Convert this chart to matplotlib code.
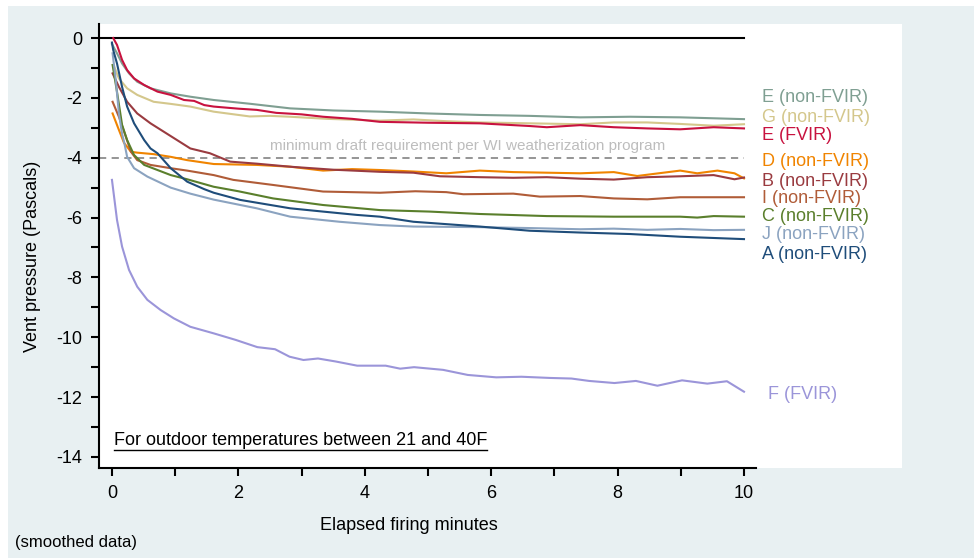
import matplotlib
matplotlib.use("Agg")
import matplotlib.pyplot as plt
from matplotlib.patches import Rectangle
from matplotlib.lines import Line2D

plt.rcParams["font.family"] = ["Liberation Sans", "DejaVu Sans"]

# ---- data ----
x_e_non = [0.0, 0.08, 0.16, 0.27, 0.4, 0.61, 0.93, 1.24, 1.61, 2.2, 2.82, 3.5, 4.24, 5.0, 5.82, 6.6,
           7.41, 8.2, 8.99, 9.5, 10.0]
y_e_non = [-0.2, -0.51, -0.85, -1.18, -1.46, -1.68, -1.85, -1.96, -2.07, -2.2, -2.35, -2.42, -2.46, -2.52,
           -2.57, -2.6, -2.65, -2.63, -2.65, -2.68, -2.71]

x_g = [0.03, 0.11, 0.24, 0.4, 0.66, 0.93, 1.24, 1.61, 2.18, 2.5, 2.82, 3.4, 4.24, 4.77, 5.3, 5.82, 6.61,
       7.41, 7.94, 8.47, 8.99, 9.52, 10.0]
y_g = [-0.93, -1.35, -1.68, -1.9, -2.13, -2.2, -2.29, -2.46, -2.62, -2.6, -2.63, -2.7, -2.76, -2.72, -2.78,
       -2.82, -2.85, -2.88, -2.82, -2.82, -2.87, -2.93, -2.88]

x_e_fvir = [0.02, 0.08, 0.16, 0.24, 0.35, 0.51, 0.72, 0.93, 1.14, 1.3, 1.46, 1.61, 2.0, 2.29, 2.6, 3.0,
            3.34, 3.8, 4.24, 5.0, 5.82, 6.61, 6.88, 7.41, 7.94, 8.47, 8.99, 9.52, 10.0]
y_e_fvir = [0.0, -0.23, -0.73, -1.07, -1.35, -1.57, -1.79, -1.9, -2.07, -2.1, -2.24, -2.29, -2.36, -2.4,
            -2.5, -2.55, -2.63, -2.7, -2.8, -2.83, -2.85, -2.94, -2.98, -2.91, -2.98, -3.02, -3.05, -2.98, -3.02]

x_d = [0.01, 0.11, 0.19, 0.3, 0.4, 0.66, 0.93, 1.19, 1.61, 2.29, 2.82, 3.34, 3.8, 4.24, 4.77, 5.29, 5.82,
       6.35, 6.88, 7.41, 7.94, 8.31, 8.99, 9.26, 9.58, 9.85, 10.0]
y_d = [-2.52, -3.07, -3.5, -3.8, -3.83, -3.88, -3.97, -4.08, -4.21, -4.24, -4.3, -4.43, -4.38, -4.41, -4.46,
       -4.52, -4.43, -4.48, -4.5, -4.52, -4.48, -4.61, -4.43, -4.52, -4.43, -4.52, -4.69]

x_b = [0.01, 0.11, 0.24, 0.4, 0.61, 0.82, 1.03, 1.24, 1.55, 1.87, 2.3, 2.82, 3.5, 4.24, 4.77, 5.19, 5.82,
       6.35, 6.88, 7.41, 7.94, 8.47, 8.99, 9.52, 9.85, 10.0]
y_b = [-1.18, -1.63, -2.13, -2.52, -2.85, -3.13, -3.41, -3.69, -3.85, -4.13, -4.2, -4.3, -4.4, -4.47, -4.5,
       -4.62, -4.65, -4.67, -4.65, -4.7, -4.73, -4.65, -4.62, -4.58, -4.72, -4.66]

x_i = [0.01, 0.11, 0.22, 0.3, 0.4, 0.61, 0.93, 1.19, 1.61, 1.92, 2.55, 3.34, 4.24, 4.8, 5.29, 5.56, 6.35,
       6.77, 7.41, 7.94, 8.47, 8.99, 10.0]
y_i = [-2.13, -2.63, -3.3, -3.8, -4.08, -4.24, -4.35, -4.43, -4.58, -4.74, -4.91, -5.13, -5.17, -5.12,
       -5.15, -5.22, -5.2, -5.3, -5.28, -5.36, -5.39, -5.32, -5.32]

x_c = [0.01, 0.08, 0.16, 0.24, 0.35, 0.51, 0.72, 0.93, 1.19, 1.61, 2.0, 2.55, 3.34, 4.24, 5.03, 5.82,
       6.88, 7.94, 8.99, 9.26, 9.52, 10.0]
y_c = [-0.9, -1.8, -2.9, -3.41, -3.91, -4.24, -4.41, -4.58, -4.72, -4.97, -5.12, -5.36, -5.58, -5.75,
       -5.8, -5.88, -5.95, -5.97, -5.97, -6.0, -5.95, -5.97]

x_j = [0.01, 0.06, 0.11, 0.16, 0.2, 0.24, 0.35, 0.56, 0.93, 1.24, 1.61, 2.29, 2.82, 3.6, 4.24, 4.77,
       5.82, 6.6, 7.41, 7.94, 8.47, 8.99, 9.52, 10.0]
y_j = [-0.51, -1.4, -2.52, -3.2, -3.55, -3.97, -4.35, -4.63, -5.0, -5.2, -5.4, -5.69, -5.97, -6.14,
       -6.25, -6.3, -6.32, -6.35, -6.39, -6.37, -6.41, -6.38, -6.42, -6.41]

x_a = [0.0, 0.02, 0.08, 0.16, 0.24, 0.35, 0.51, 0.61, 0.72, 0.93, 1.19, 1.46, 1.61, 2.03, 2.82, 3.34,
       3.87, 4.24, 4.77, 5.82, 6.61, 7.41, 8.2, 8.99, 10.0]
y_a = [-0.15, -0.4, -0.85, -1.63, -2.29, -2.85, -3.41, -3.69, -3.85, -4.35, -4.8, -5.05, -5.17, -5.41,
       -5.69, -5.8, -5.91, -5.97, -6.14, -6.3, -6.44, -6.5, -6.55, -6.64, -6.72]

x_f = [0.0, 0.08, 0.16, 0.27, 0.4, 0.56, 0.77, 0.98, 1.24, 1.61, 1.96, 2.3, 2.58, 2.81, 3.03, 3.26, 3.54,
       3.88, 4.33, 4.56, 4.78, 5.24, 5.63, 6.08, 6.48, 6.93, 7.27, 7.55, 7.95, 8.29, 8.63, 9.02, 9.42,
       9.73, 10.0]
y_f = [-4.74, -6.08, -6.97, -7.75, -8.31, -8.75, -9.09, -9.37, -9.65, -9.87, -10.09, -10.33, -10.4,
       -10.65, -10.76, -10.71, -10.81, -10.95, -10.95, -11.05, -11.0, -11.09, -11.26, -11.34, -11.32,
       -11.36, -11.38, -11.46, -11.53, -11.46, -11.62, -11.44, -11.55, -11.47, -11.82]

labels = ["E (non-FVIR)", "G (non-FVIR)", "E (FVIR)", "D (non-FVIR)", "B (non-FVIR)",
          "I (non-FVIR)", "C (non-FVIR)", "J (non-FVIR)", "A (non-FVIR)", "F (FVIR)"]
label_y = [-1.97, -2.64, -3.24, -4.14, -4.78, -5.35, -5.95, -6.58, -7.25, -11.9]
colors = ["#7f9f92", "#d4c78c", "#c8123f", "#f08400", "#9a3b40",
          "#b05c38", "#5a7f2c", "#8ba3c0", "#1f4d7a", "#9b95d9"]

series = [(x_e_non, y_e_non), (x_g, y_g), (x_e_fvir, y_e_fvir), (x_d, y_d), (x_b, y_b),
          (x_i, y_i), (x_c, y_c), (x_j, y_j), (x_a, y_a), (x_f, y_f)]

draft_min = -4

fig = plt.figure(figsize=(9.74, 5.58), dpi=100)
fig.patch.set_facecolor("white")

# light blue frame and white plot panel
W, H = 974.0, 558.0
fig.patches.append(Rectangle((8 / W, 0), 1 - 8 / W, 1 - 6 / H, transform=fig.transFigure,
                             facecolor="#e8f0f2", edgecolor="none", zorder=-2))
fig.patches.append(Rectangle((99 / W, 1 - 468 / H), (902 - 99) / W, (468 - 24) / H,
                             transform=fig.transFigure, facecolor="white", edgecolor="none", zorder=-1))

ax = fig.add_axes([99 / W, 1 - 468 / H, (756 - 99) / W, (468 - 24) / H])
ax.set_facecolor("none")
ax.set_xlim(-0.205, 10.19)
ax.set_ylim(-14.37, 0.47)

for (xs, ys), c in zip(series, colors):
    ax.plot(xs, ys, color=c, lw=1.5, zorder=3, solid_joinstyle="round")

ax.plot([-0.205, 10], [0, 0], color="black", lw=1.5, zorder=2, clip_on=False)
ax.plot([-0.205, 10], [draft_min, draft_min], color="#8c8c8c", lw=1.3, ls=(0, (4, 3)), zorder=2)
ax.text(5.62, -3.61, "minimum draft requirement per WI weatherization program", color="#bdbdbd",
        fontsize=11, ha="center", va="center")

for lab, ly, c in zip(labels, label_y, colors):
    lx = 10.38 if lab.startswith("F") else 10.28
    ax.text(lx, ly, lab, color=c, fontsize=13, ha="left", va="center", clip_on=False)

for s in ["top", "right"]:
    ax.spines[s].set_visible(False)
for s in ["left", "bottom"]:
    ax.spines[s].set_linewidth(1.5)

ax.set_xticks(range(0, 11))
ax.set_xticklabels([str(v) if v % 2 == 0 else "" for v in range(0, 11)])
ax.set_yticks(range(-14, 1))
ax.set_yticklabels([str(v) if v % 2 == 0 else "" for v in range(-14, 1)])
ax.tick_params(axis="both", direction="out", length=6, width=1.5, labelsize=13, pad=6)

ax.set_xlabel("Elapsed firing minutes", fontsize=13, va="center")
ax.xaxis.set_label_coords((409 - 99) / 657, (468 - 526) / 444)
ax.set_ylabel("Vent pressure (Pascals)", fontsize=13, va="center")
ax.yaxis.set_label_coords((33 - 99) / 657, (468 - 256) / 444)

note = ax.text(0.03, -13.46, "For outdoor temperatures between 21 and 40F", fontsize=13,
               ha="left", va="center")
fig.text(15 / W, 1 - 542 / H, "(smoothed data)", fontsize=12, ha="left", va="center")

# underline the note
fig.canvas.draw()
bb = note.get_window_extent()
fig.add_artist(Line2D([bb.x0 / W, bb.x1 / W], [(bb.y0 - 0.5) / H, (bb.y0 - 0.5) / H],
                      transform=fig.transFigure, color="black", lw=1.0))

fig.savefig("out.png", dpi=100)
